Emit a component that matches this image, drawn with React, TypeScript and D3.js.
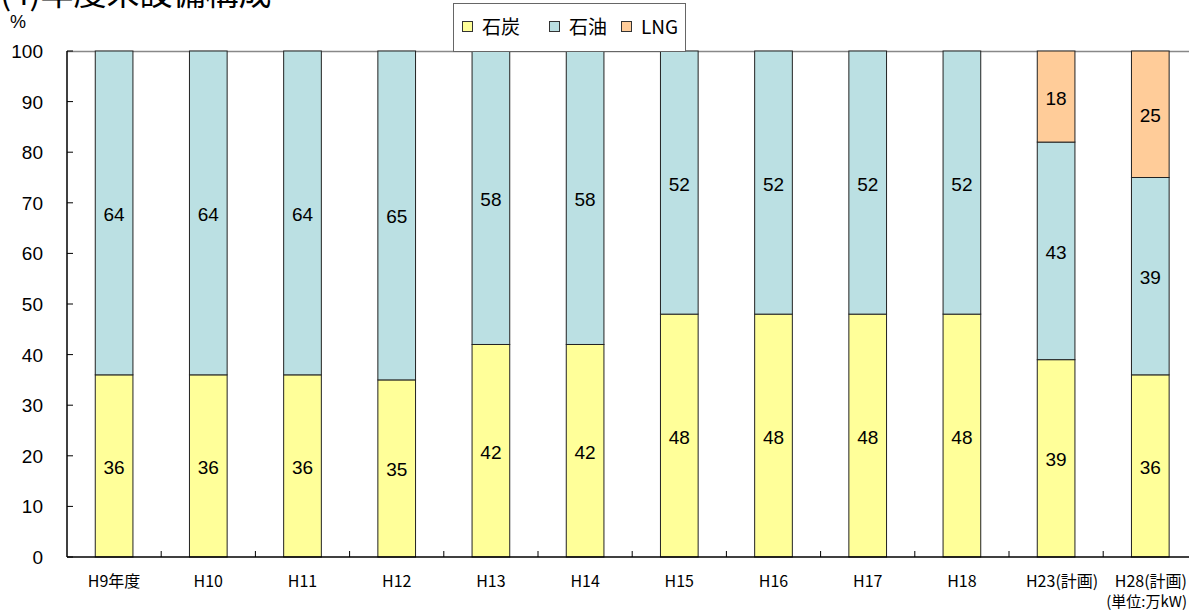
import React from "react";
import * as d3 from "d3";

const categories = ["H9年度", "H10", "H11", "H12", "H13", "H14", "H15", "H16", "H17", "H18", "H23(計画)", "H28(計画)"];
const coal = [36, 36, 36, 35, 42, 42, 48, 48, 48, 48, 39, 36];
const oil = [64, 64, 64, 65, 58, 58, 52, 52, 52, 52, 43, 39];
const lng = [0, 0, 0, 0, 0, 0, 0, 0, 0, 0, 18, 25];
const seriesNames = ["石炭", "石油", "LNG"];
const seriesColors = ["#FFFF99", "#BBE0E3", "#FFCC99"];
const yTicks = [0, 10, 20, 30, 40, 50, 60, 70, 80, 90, 100];

const W = 1189, H = 613;
const left = 67, top = 51, bottom = 557;
const bandW = 94.2;
const right = left + bandW * categories.length;
const font = "'Noto Sans CJK JP', 'Liberation Sans', sans-serif";
const numFont = "'Liberation Sans', 'Noto Sans CJK JP', sans-serif";

export default function App() {
  const x = d3.scaleBand<string>().domain(categories).range([left, right]).paddingInner(0.6).paddingOuter(0.3);
  const xb = d3.scaleBand<string>().domain(categories).range([left, right]);
  const y = d3.scaleLinear().domain([0, 100]).range([bottom, top]);
  const rows = categories.map((c, i) => ({ cat: c, coal: coal[i], oil: oil[i], lng: lng[i] }));
  const stack = d3.stack<any>().keys(["coal", "oil", "lng"])(rows);

  return (
    <svg width={W} height={H} style={{ position: "absolute", left: 0, top: 0, background: "#fff" }} fontFamily={font}>
      <rect x={0} y={0} width={W} height={H} fill="#fff" />
      <text x={0} y={5} fontSize={33} fill="#000">(4)年度末設備構成</text>
      <text x={10} y={28} fontSize={18} fontFamily={numFont} fill="#000">%</text>
      <line x1={left} x2={W} y1={top + 0.5} y2={top + 0.5} stroke="#888" strokeWidth={1.5} />
      {stack.map((s, si) => (
        <g key={si}>
          {s.map((d, i) => {
            const v = d[1] - d[0];
            if (v <= 0) return null;
            const bx = x(categories[i])!;
            const y0 = y(d[0]), y1 = y(d[1]);
            return (
              <g key={i}>
                <rect x={bx} y={y1} width={x.bandwidth()} height={y0 - y1} fill={seriesColors[si]} stroke="#222" strokeWidth={1} />
                <text x={bx + x.bandwidth() / 2} y={(y0 + y1) / 2 + 8} textAnchor="middle" fontSize={19} fontFamily={numFont} fill="#000">{v}</text>
              </g>
            );
          })}
        </g>
      ))}
      <line x1={left} x2={left} y1={top} y2={bottom} stroke="#000" strokeWidth={1.5} />
      <line x1={left} x2={W} y1={bottom} y2={bottom} stroke="#000" strokeWidth={1.5} />
      {yTicks.map((t) => (
        <g key={t}>
          <line x1={left} x2={left + 6} y1={y(t)} y2={y(t)} stroke="#000" />
          <text x={43} y={y(t) + 7} textAnchor="end" fontSize={19} fontFamily={numFont} fill="#000">{t}</text>
        </g>
      ))}
      {categories.map((c, i) => (
        <g key={c}>
          {i > 0 && <line x1={xb(c)!} x2={xb(c)!} y1={bottom - 6} y2={bottom} stroke="#000" />}
          <text x={i === categories.length - 1 ? 1187 : xb(c)! + xb.bandwidth() / 2 + (i === 10 ? 6 : 0)} y={587} textAnchor={i === categories.length - 1 ? "end" : "middle"} fontSize={16} fill="#000">{c}</text>
        </g>
      ))}
      <text x={1187} y={607} textAnchor="end" fontSize={15} fill="#000">(単位:万kW)</text>
      <rect x={453.5} y={3.5} width={232} height={48} fill="#fff" stroke="#666" />
      {seriesNames.map((n, i) => {
        const lx = [462, 549, 621][i];
        return (
          <g key={n}>
            <rect x={lx + 0.5} y={21.5} width={10} height={10} fill={seriesColors[i]} stroke="#333" />
            <text x={lx + 20} y={34} fontSize={19} fill="#000">{n}</text>
          </g>
        );
      })}
    </svg>
  );
}
